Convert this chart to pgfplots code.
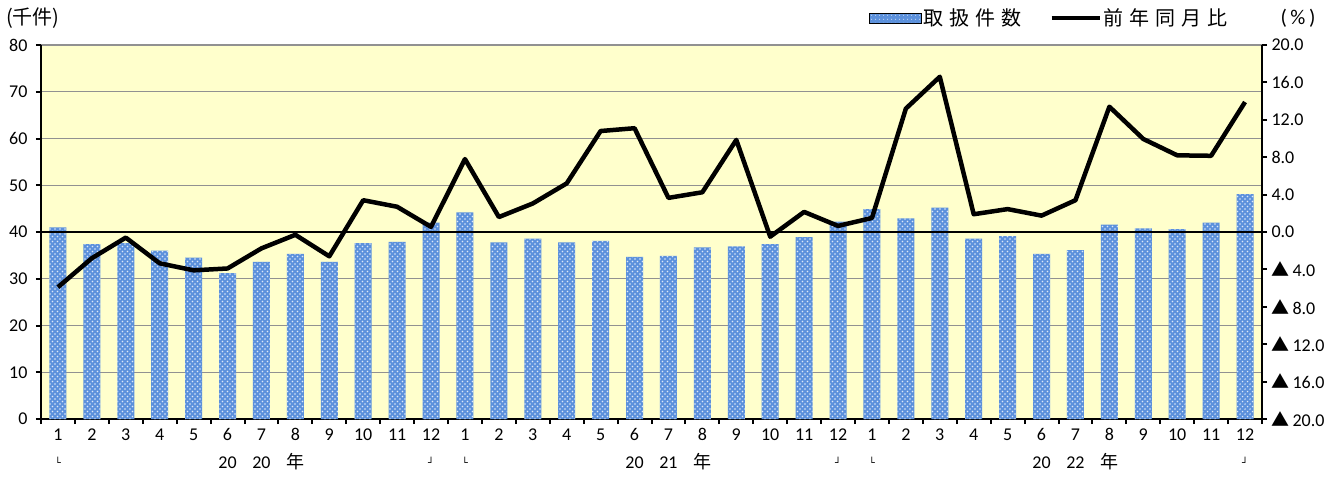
\documentclass[border=0pt]{standalone}
\usepackage{pgfplots}
\pgfplotsset{compat=1.18}
\usepackage{pgfplotstable}
\usepackage{fontspec}
\setmainfont{Carlito}
\newfontfamily\jp{Noto Sans CJK JP}
\newfontfamily\dv{DejaVu Sans}
\usetikzlibrary{patterns.meta}
\definecolor{bg}{RGB}{255,255,204}
\definecolor{barblue}{RGB}{92,145,220}
\definecolor{gridgray}{RGB}{145,145,145}
\newcommand\cL{\raisebox{2pt}{{\dv\fontsize{10}{10}\selectfont └}}}
\newcommand\cR{\raisebox{2pt}{{\dv\fontsize{10}{10}\selectfont ┘}}}
\newcommand\nen{{\jp 年}}
\newcommand\tri{{\jp ▲}}
\pgfplotstableread{
x cnt yoy
1 41.0 -5.9
2 37.4 -2.8
3 37.6 -0.6
4 36.0 -3.35
5 34.5 -4.1
6 31.2 -3.9
7 33.6 -1.75
8 35.3 -0.3
9 33.6 -2.6
10 37.6 3.4
11 37.9 2.7
12 42.0 0.55
13 44.2 7.8
14 37.8 1.6
15 38.6 3.05
16 37.8 5.2
17 38.1 10.8
18 34.7 11.1
19 34.9 3.65
20 36.7 4.25
21 36.9 9.85
22 37.4 -0.5
23 38.9 2.15
24 42.2 0.65
25 44.9 1.5
26 42.9 13.2
27 45.2 16.6
28 38.6 1.9
29 39.1 2.45
30 35.3 1.75
31 36.1 3.4
32 41.6 13.4
33 40.8 9.95
34 40.6 8.2
35 42.0 8.15
36 48.1 13.9
}\data
\begin{document}
\begin{tikzpicture}
\begin{axis}[
  scale only axis, width=1221pt, height=374pt,
  xmin=0.5, xmax=36.5, ymin=0, ymax=80,
  axis x line*=bottom, axis y line*=left,
  axis line style={black, line width=2.2pt, -},
  axis background/.style={fill=bg},
  ytick={0,10,...,80},
  ymajorgrids, major grid style={gridgray, line width=1.4pt},
  tick align=outside, major tick length=5pt,
  tick style={black, line width=2pt},
  xtick={0.5,1.5,...,36.5},
  x tick label as interval,
  xticklabels={{1\\\cL},2,3,4,5,{6\\20},{7\\20},{8\\\nen},9,10,11,{12\\\cR},
               {1\\\cL},2,3,4,5,{6\\20},{7\\21},{8\\\nen},9,10,11,{12\\\cR},
               {1\\\cL},2,3,4,5,{6\\20},{7\\22},{8\\\nen},9,10,11,{12\\\cR}},
  xticklabel style={align=center, font=\fontsize{18}{28}\selectfont, yshift=-1pt},
  yticklabel style={font=\fontsize{18}{20}\selectfont, xshift=-5pt},
  /pgf/number format/assume math mode=true,
  clip=false,
]
\addplot[ybar, bar width=17pt, fill=barblue, draw=none,
  postaction={pattern={Dots[distance=5pt,radius=0.8pt]}, pattern color=white!80!barblue},
  postaction={pattern={Dots[distance=5pt,radius=0.8pt,xshift=2.5pt,yshift=2.5pt]}, pattern color=white!80!barblue}]
  table[x=x,y=cnt]{\data};
\coordinate (bl) at (rel axis cs:0,0);
\coordinate (tr) at (rel axis cs:1,1);
\node[anchor=west, font=\jp\fontsize{20}{22}\selectfont, inner sep=0pt] at ([shift={(-35pt,27pt)}]rel axis cs:0,1) {(千件)};
\node[anchor=center, font=\fontsize{21}{22}\selectfont, inner sep=0pt] at ([shift={(36pt,27pt)}]rel axis cs:1,1) {(\,\%\,)};
\end{axis}
\begin{axis}[
  scale only axis, width=1221pt, height=374pt,
  xmin=0.5, xmax=36.5, ymin=-20, ymax=20,
  axis y line*=right, axis x line=none,
  axis line style={black, line width=2.2pt, -},
  tick align=outside, major tick length=5pt,
  tick style={black, line width=2pt},
  ytick={-20,-16,...,20},
  yticklabels={\tri\,20.0,\tri\,16.0,\tri\,12.0,\tri\,8.0,\tri\,4.0,0.0,4.0,8.0,12.0,16.0,20.0},
  yticklabel style={font=\fontsize{18}{20}\selectfont, xshift=1pt},
  extra y ticks={0}, extra y tick labels={},
  extra y tick style={grid=major, major grid style={black, line width=2pt}, major tick length=0pt},
  legend columns=2,
  legend style={at={([shift={(-32pt,27pt)}]1,1)}, anchor=east, draw=none, fill=none,
    font=\jp\fontsize{20}{22}\selectfont, inner sep=0pt,
    /tikz/every even column/.append style={column sep=26pt}},
  clip=false,
]
\addlegendimage{legend image code/.code={
  \fill[barblue] (-22pt,-5pt) rectangle (30pt,5pt);
  \fill[pattern={Dots[distance=4pt,radius=0.6pt]}, pattern color=white!80!barblue] (-22pt,-5pt) rectangle (30pt,5pt);}}
\addlegendentry{取\hspace{6pt}扱\hspace{6pt}件\hspace{6pt}数}
\addplot[black, line width=4.5pt, line join=round, mark=none,
  legend image code/.code={\draw[black, line width=4.5pt] (-8pt,0pt) -- (40pt,0pt);}]
  table[x=x,y=yoy]{\data};
\addlegendentry{前\hspace{6pt}年\hspace{6pt}同\hspace{6pt}月\hspace{6pt}比}
\end{axis}
\pgfresetboundingbox
\path[use as bounding box] ([shift={(-41pt,-60pt)}]bl) rectangle ([shift={(76pt,45pt)}]tr);
\end{tikzpicture}
\end{document}
